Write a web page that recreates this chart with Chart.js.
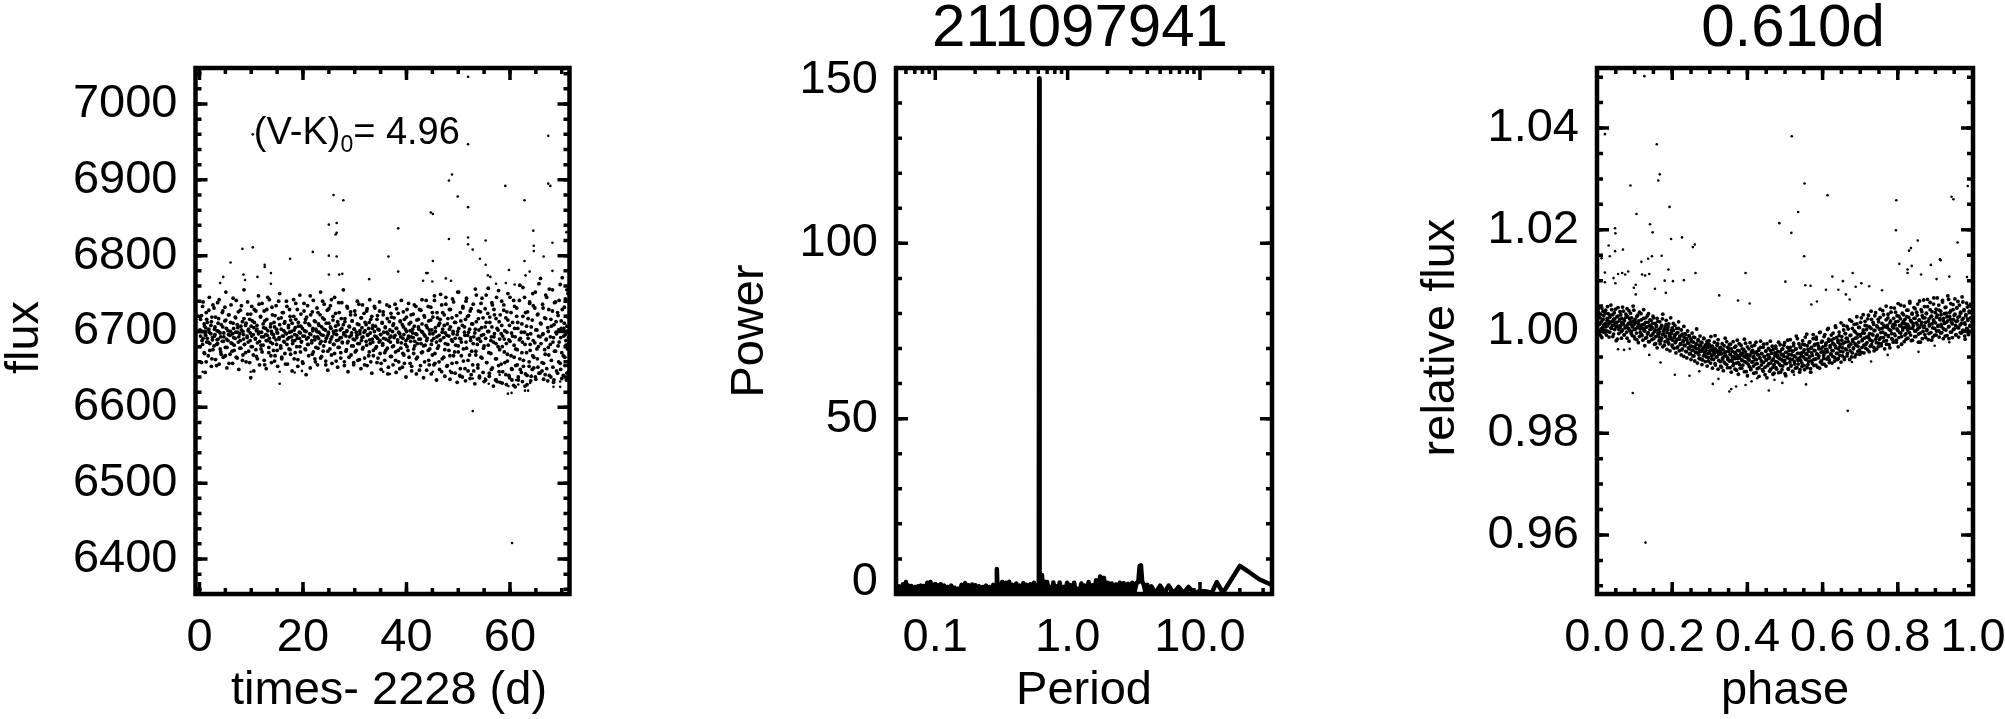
<!DOCTYPE html>
<html>
<head>
<meta charset="UTF-8">
<script src="https://cdn.jsdelivr.net/npm/chart.js"></script>
<style>
  html, body { margin: 0; width: 2005px; height: 719px; overflow: hidden; background: #fff; }
  canvas { position: absolute; top: 0; }
</style>
</head>
<body>
<canvas id="lightcurve" width="640" height="719" style="left:0"></canvas>
<canvas id="periodogram" width="706" height="719" style="left:727px"></canvas>
<canvas id="phased" width="750" height="719" style="left:1418px"></canvas>
<script>
// light curve: scattered outliers read one by one
const lcOutTimes = [51.9,10.3,67.4,51.9,48.8,48.2,59.1,67.4,67.8,25.9,27.8,49.9,62.8,51.9,44.7,45.1,25,26.5,26.5,26.3,38.4,64.5,70.9,48.2,51.9,55.3,51.9,52.8,64.6,64.6,68.2,8.3,10.3,21.9,17.5,25,26.5,36.5,66.5,54.2,45.1,62.8,6,12.6,12.6,55.3,59.8,38.4,13.8,8.5,63.8,63,68.2,25,27,27.6,43.8,44.1,11.2,4.6,55.7,56.2,8.8,32.8,47.6,48.6,4,43.2,45,13.8,59.2,57.3,60.9,15.5,52.8,60.4,59.6,60.3,62.9,63.5,15.5,18.4,19.8,9.9,55.9,52.8,50.3,68.4,69.7,68.4,69.7,63.9,59.7,60.3,61.6,57.4,58,55.2,45.1,36.8,0.6,35.5,48.4,61.2];
const lcOutFlux = [7036,6960,6958,6947,6907,6899,6892,6895,6892,6880,6873,6878,6873,6864,6857,6855,6841,6843,6830,6828,6836,6833,6831,6822,6824,6820,6815,6808,6813,6806,6817,6809,6811,6805,6796,6800,6799,6799,6799,6796,6793,6793,6791,6788,6785,6788,6781,6779,6777,6775,6779,6774,6780,6775,6775,6776,6777,6777,6772,6772,6774,6772,6768,6769,6770,6767,6764,6767,6766,6763,6764,6763,6762,6631,6595,6421,6618,6619,6622,6622,6647,6646,6648,6647,6631,6638,6640,6627,6627,6633,6634,6632,6628,6636,6630,6637,6643,6638,6647,6644,6647,6647,6648,6636];
// light curve: dense band, two passes over the same cadences
const lcCoreTimes = [
0.1,0.2,0.4,0.5,0.6,0.7,0.9,1.0,1.1,1.2,1.3,1.4,
1.5,1.7,1.8,1.9,2.0,2.2,2.3,2.4,2.5,2.6,2.8,2.9,
3.0,3.1,3.3,3.4,3.5,3.6,3.7,3.8,4.0,4.1,4.2,4.4,
4.5,4.6,4.7,4.9,5.0,5.1,5.2,5.3,5.5,5.6,5.7,5.9,
6.0,6.1,6.3,6.4,6.5,6.6,6.7,6.9,7.0,7.1,7.3,7.4,
7.5,7.6,7.8,7.9,8.0,8.1,8.3,8.4,8.5,8.6,8.7,8.9,
9.0,9.2,9.3,9.4,9.5,9.7,9.8,9.9,10.0,10.1,10.2,10.4,
10.5,10.6,10.8,10.9,11.0,11.1,11.2,11.4,11.5,11.6,11.8,11.9,
12.0,12.1,12.3,12.4,12.5,12.6,12.8,12.9,13.0,13.1,13.2,13.4,
13.5,13.7,13.8,13.9,14.0,14.1,14.3,14.4,14.5,14.6,14.8,14.9,
15.0,15.1,15.3,15.4,15.5,15.7,15.8,15.9,16.0,16.2,16.3,16.4,
16.5,16.6,16.8,16.9,17.0,17.2,17.3,17.4,17.5,17.6,17.8,17.9,
18.0,18.2,18.3,18.4,18.5,18.6,18.8,18.9,19.0,19.1,19.3,19.4,
19.5,19.6,19.7,19.9,20.0,20.2,20.3,20.4,20.5,20.6,20.7,20.9,
21.0,21.1,21.3,21.4,21.5,21.7,21.8,21.9,22.0,22.2,22.3,22.4,
22.5,22.7,22.8,22.9,23.0,23.1,23.3,23.4,23.5,23.6,23.8,23.9,
24.0,24.1,24.3,24.4,24.5,24.7,24.8,24.9,25.0,25.2,25.3,25.4,
25.5,25.6,25.8,25.9,26.0,26.1,26.3,26.4,26.5,26.7,26.8,26.9,
27.0,27.2,27.3,27.4,27.5,27.6,27.8,27.9,28.0,28.1,28.3,28.4,
28.5,28.6,28.7,28.9,29.0,29.2,29.3,29.4,29.5,29.7,29.8,29.9,
30.0,30.1,30.3,30.4,30.5,30.6,30.8,30.9,31.0,31.2,31.3,31.4,
31.5,31.6,31.8,31.9,32.0,32.2,32.3,32.4,32.5,32.7,32.8,32.9,
33.0,33.1,33.3,33.4,33.5,33.6,33.8,33.9,34.0,34.2,34.3,34.4,
34.5,34.7,34.8,34.9,35.0,35.1,35.3,35.4,35.5,35.6,35.8,35.9,
36.0,36.2,36.3,36.4,36.5,36.7,36.8,36.9,37.0,37.1,37.3,37.4,
37.5,37.6,37.8,37.9,38.0,38.1,38.3,38.4,38.5,38.7,38.8,38.9,
39.0,39.2,39.3,39.4,39.5,39.6,39.8,39.9,40.0,40.1,40.3,40.4,
40.5,40.7,40.8,40.9,41.0,41.2,41.3,41.4,41.5,41.6,41.8,41.9,
42.0,42.1,42.3,42.4,42.5,42.7,42.8,42.9,43.0,43.1,43.3,43.4,
43.5,43.6,43.8,43.9,44.0,44.2,44.3,44.4,44.5,44.7,44.8,44.9,
45.0,45.1,45.3,45.4,45.5,45.6,45.8,45.9,46.0,46.2,46.3,46.4,
46.5,46.6,46.8,46.9,47.0,47.2,47.3,47.4,47.5,47.6,47.8,47.9,
48.0,48.2,48.3,48.4,48.5,48.7,48.8,48.9,49.0,49.1,49.3,49.4,
49.5,49.7,49.8,49.9,50.0,50.1,50.3,50.4,50.5,50.6,50.8,50.9,
51.0,51.2,51.3,51.4,51.5,51.6,51.8,51.9,52.0,52.2,52.3,52.4,
52.5,52.6,52.8,52.9,53.0,53.2,53.3,53.4,53.5,53.7,53.8,53.9,
54.0,54.1,54.3,54.4,54.5,54.6,54.8,54.9,55.0,55.2,55.3,55.4,
55.5,55.7,55.8,55.9,56.0,56.1,56.3,56.4,56.5,56.6,56.8,56.9,
57.0,57.2,57.3,57.4,57.5,57.7,57.8,57.9,58.0,58.1,58.3,58.4,
58.5,58.6,58.8,58.9,59.0,59.2,59.3,59.4,59.5,59.6,59.8,59.9,
60.0,60.2,60.3,60.4,60.5,60.7,60.8,60.9,61.0,61.1,61.3,61.4,
61.5,61.6,61.8,61.9,62.0,62.2,62.3,62.4,62.5,62.6,62.8,62.9,
63.0,63.2,63.3,63.4,63.5,63.7,63.8,63.9,64.0,64.1,64.3,64.4,
64.5,64.6,64.8,64.9,65.0,65.2,65.3,65.4,65.5,65.6,65.8,65.9,
66.0,66.2,66.3,66.4,66.5,66.7,66.8,66.9,67.0,67.1,67.3,67.4,
67.5,67.6,67.8,67.9,68.0,68.2,68.3,68.4,68.5,68.6,68.8,68.9,
69.0,69.2,69.3,69.4,69.5,69.7,69.8,69.9,70.0,70.1,70.3,70.4,
70.5,70.6,70.7,70.8,70.9,71.0,71.0,71.1,71.2,71.2,71.3,71.3];
const lcCoreFlux = [
6702,6694,6721,6688,6683,6739,6710,6671,6697,6705,6660,6716,
6691,6686,6728,6699,6675,6708,6713,6664,6692,6735,6681,6703,
6696,6719,6655,6689,6684,6711,6700,6742,6677,6693,6670,6725,
6706,6687,6698,6732,6668,6715,6690,6679,6701,6722,6658,6695,
6712,6685,6674,6697,6744,6704,6682,6691,6718,6666,6709,6699,
6726,6693,6678,6688,6707,6734,6662,6700,6696,6717,6683,6672,
6711,6692,6739,6686,6703,6659,6698,6723,6680,6694,6714,6669,
6705,6729,6690,6676,6701,6708,6664,6697,6736,6687,6719,6682,
6699,6673,6710,6693,6727,6656,6704,6688,6716,6695,6745,6679,
6691,6706,6668,6700,6732,6684,6696,6712,6661,6721,6689,6703,
6675,6698,6740,6692,6709,6681,6718,6666,6694,6725,6701,6686,
6713,6657,6697,6733,6690,6705,6677,6699,6720,6670,6693,6711,
6684,6742,6702,6688,6672,6716,6695,6729,6663,6707,6691,6680,
6698,6723,6687,6704,6658,6737,6694,6712,6676,6700,6719,6683,
6692,6668,6708,6747,6696,6685,6726,6701,6673,6714,6689,6660,
6703,6731,6693,6678,6710,6699,6722,6665,6687,6706,6740,6695,
6681,6716,6702,6656,6691,6728,6674,6697,6711,6686,6734,6704,
6669,6693,6720,6700,6683,6745,6707,6661,6696,6713,6679,6689,
6725,6702,6672,6692,6738,6685,6709,6698,6655,6717,6694,6676,
6701,6731,6687,6666,6706,6722,6695,6681,6714,6690,6659,6703,
6727,6673,6699,6692,6710,6684,6736,6663,6697,6718,6688,6705,
6677,6693,6724,6656,6701,6709,6682,6730,6695,6668,6712,6689,
6698,6660,6720,6704,6686,6675,6733,6694,6707,6680,6716,6691,
6665,6702,6727,6688,6696,6658,6711,6684,6722,6699,6672,6705,
6690,6735,6678,6697,6653,6713,6692,6686,6724,6667,6700,6708,
6681,6718,6695,6662,6704,6730,6689,6675,6699,6651,6714,6693,
6685,6709,6671,6726,6696,6658,6703,6688,6719,6680,6691,6737,
6666,6701,6712,6693,6654,6698,6723,6677,6707,6687,6733,6664,
6696,6684,6716,6703,6649,6690,6728,6672,6710,6699,6681,6721,
6660,6694,6741,6688,6705,6675,6714,6656,6697,6732,6683,6702,
6669,6719,6691,6747,6658,6700,6686,6725,6678,6708,6695,6650,
6716,6689,6735,6664,6703,6692,6722,6676,6698,6745,6654,6710,
6683,6694,6729,6668,6706,6646,6718,6687,6700,6739,6673,6691,
6712,6659,6696,6752,6681,6704,6642,6725,6690,6668,6708,6733,
6677,6699,6651,6716,6686,6744,6695,6662,6721,6703,6638,6692,
6730,6674,6710,6684,6648,6698,6756,6669,6713,6690,6656,6727,
6702,6641,6687,6737,6695,6665,6718,6678,6634,6706,6691,6748,
6659,6724,6682,6700,6645,6712,6671,6693,6738,6652,6686,6729,
6697,6636,6717,6664,6704,6680,6754,6647,6690,6722,6657,6708,
6632,6694,6735,6673,6701,6643,6684,6726,6661,6715,6689,6639,
6745,6668,6698,6650,6712,6629,6682,6733,6693,6655,6720,6676,
6704,6636,6741,6664,6691,6646,6710,6686,6758,6654,6699,6628,
6725,6672,6642,6696,6717,6660,6737,6683,6635,6706,6650,6750,
6688,6666,6731,6640,6702,6677,6722,6653,6694,6763,6645,6711,
6684,6659,6736,6697,6637,6718,6670,6748,6690,6651,6705,6679,
6729,6642,6693,6716,6662,6755,6686,6633,6709,6674,6739,6699,
6648,6725,6681,6702,6741,6658,6692,6714,6638,6771,6668,6704,
6732,6655,6696,6688,6720,6645,6707,6677,6750,6660,6699,6684];
const lcCoreFluxB = [
6680,6716,6659,6700,6733,6691,6672,6707,6646,6695,6725,6686,
6712,6668,6703,6745,6684,6697,6654,6719,6689,6676,6731,6694,
6706,6663,6683,6701,6738,6690,6717,6657,6698,6673,6709,6687,
6727,6666,6693,6714,6679,6752,6704,6652,6688,6696,6722,6670,
6700,6735,6684,6658,6711,6692,6675,6719,6699,6741,6665,6705,
6686,6650,6697,6728,6678,6702,6713,6669,6690,6755,6683,6708,
6660,6694,6723,6701,6674,6716,6688,6639,6707,6733,6680,6696,
6648,6712,6691,6727,6667,6703,6685,6747,6699,6656,6720,6677,
6693,6737,6682,6705,6662,6714,6696,6651,6729,6688,6701,6672,
6742,6686,6710,6659,6697,6722,6675,6692,6706,6668,6734,6683,
6699,6654,6717,6690,6750,6678,6703,6664,6725,6694,6687,6711,
6671,6698,6740,6683,6657,6708,6692,6729,6676,6715,6700,6648,
6688,6720,6664,6696,6705,6737,6680,6691,6654,6712,6699,6748,
6673,6707,6686,6660,6694,6727,6701,6677,6716,6643,6690,6734,
6683,6710,6697,6652,6722,6688,6670,6704,6741,6693,6664,6713,
6679,6700,6656,6725,6691,6708,6684,6752,6696,6667,6718,6674,
6703,6736,6687,6661,6711,6694,6649,6699,6730,6677,6706,6690,
6742,6658,6715,6683,6697,6671,6724,6701,6688,6653,6709,6738,
6679,6692,6665,6717,6704,6686,6755,6696,6660,6713,6674,6700,
6733,6685,6647,6707,6693,6726,6669,6698,6714,6681,6656,6703,
6689,6722,6675,6695,6740,6662,6709,6684,6701,6651,6718,6692,
6735,6679,6699,6665,6712,6687,6727,6655,6696,6704,6673,6742,
6684,6716,6645,6690,6708,6668,6700,6731,6678,6693,6659,6721,
6703,6686,6739,6671,6696,6650,6712,6682,6726,6691,6662,6706,
6675,6699,6717,6644,6688,6733,6702,6667,6694,6719,6680,6656,
6710,6692,6736,6673,6646,6704,6686,6724,6660,6697,6713,6678,
6741,6653,6691,6706,6669,6716,6683,6640,6700,6729,6675,6694,
6710,6658,6687,6722,6648,6703,6692,6671,6735,6681,6697,6644,
6715,6666,6706,6690,6729,6655,6684,6700,6742,6673,6639,6696,
6719,6682,6708,6649,6691,6733,6662,6702,6677,6715,6644,6688,
6725,6697,6656,6741,6671,6705,6636,6693,6718,6681,6660,6711,
6688,6749,6647,6699,6725,6666,6708,6641,6684,6736,6695,6655,
6717,6675,6703,6637,6729,6689,6658,6743,6697,6668,6712,6645,
6682,6721,6633,6700,6673,6752,6691,6651,6714,6686,6640,6731,
6661,6706,6695,6635,6740,6678,6720,6648,6699,6669,6727,6688,
6643,6710,6656,6736,6693,6631,6703,6674,6748,6683,6652,6717,
6691,6639,6726,6666,6705,6744,6646,6696,6681,6730,6636,6712,
6659,6700,6757,6672,6641,6719,6688,6650,6706,6735,6628,6693,
6722,6664,6684,6745,6634,6702,6655,6713,6676,6633,6697,6740,
6680,6647,6728,6690,6659,6718,6630,6699,6670,6750,6642,6708,
6687,6725,6651,6636,6694,6741,6666,6704,6627,6677,6731,6656,
6712,6640,6689,6761,6650,6699,6672,6634,6720,6662,6745,6683,
6644,6707,6630,6726,6691,6654,6739,6675,6697,6641,6715,6668,
6734,6652,6685,6752,6637,6702,6664,6723,6680,6645,6693,6770,
6710,6648,6696,6731,6658,6676,6643,6717,6689,6745,6635,6700,
6669,6756,6683,6640,6707,6727,6653,6692,6636,6738,6674,6713,
6697,6645,6721,6660,6686,6762,6650,6704,6672,6729,6642,6694,
6711,6666,6743,6682,6636,6700,6755,6655,6719,6678,6692,6647];

// periodogram
const pgPeriod = [0.051,0.052,0.053,0.054,0.055,0.056,0.057,0.058,0.060,0.061,0.063,0.064,0.066,0.068,0.070,0.072,0.074,0.076,0.078,0.080,0.082,0.085,0.087,0.090,0.092,0.095,0.098,0.101,0.104,0.107,0.110,0.113,0.117,0.120,0.124,0.128,0.132,0.136,0.140,0.144,0.149,0.153,0.158,0.163,0.168,0.173,0.178,0.184,0.190,0.195,0.201,0.208,0.214,0.221,0.228,0.235,0.242,0.250,0.258,0.266,0.274,0.283,0.288,0.292,0.296,0.301,0.310,0.320,0.330,0.340,0.351,0.362,0.373,0.385,0.397,0.409,0.422,0.435,0.449,0.463,0.477,0.492,0.508,0.524,0.540,0.557,0.575,0.590,0.600,0.606,0.610,0.614,0.620,0.632,0.640,0.650,0.665,0.680,
0.700,0.720,0.740,0.760,0.780,0.800,0.830,0.850,0.870,0.900,
0.930,0.960,0.990,1.02,1.05,1.08,1.12,1.15,1.19,1.23,
1.27,1.31,1.35,1.40,1.44,1.49,1.54,1.59,1.64,1.70,
1.76,1.82,1.88,1.94,2.01,2.08,2.15,2.23,2.31,2.39,
2.48,2.57,2.66,2.76,2.86,2.97,3.08,3.20,3.32,3.42,
3.50,3.58,3.66,3.75,3.86,4.00,4.15,4.30,4.60,5.00,
5.40,5.80,6.30,6.90,7.50,8.20,9.00,9.90,10.9,12.3,
13.4,14.9,20.0,24.0,28.0,32.0,35.0];
const pgPower = [1.8,0.3,2.2,0.2,2.0,0.4,2.8,0.2,3.4,0.3,2.4,0.2,2.3,0.4,2.0,0.2,2.2,0.3,2.4,0.2,2.3,0.4,3.2,0.3,3.4,0.2,2.6,0.3,2.5,0.2,2.8,0.3,2.4,0.2,2.0,0.3,2.4,0.2,1.8,0.3,1.5,0.2,2.6,0.3,3.1,0.2,2.5,0.3,2.7,0.2,2.5,0.3,2.2,0.2,2.0,0.4,2.4,0.2,2.0,0.3,2.6,0.2,0.4,7.1,0.5,2.8,0.3,3.4,0.2,3.2,0.4,3.5,0.3,2.6,0.2,3.0,0.3,2.4,0.2,3.1,0.3,2.6,0.3,2.8,0.2,3.2,0.3,2.4,0.5,20,147,3.0,5.8,0.4,5.4,0.3,3.6,0.2,
3.4,0.3,2.0,0.2,3.3,0.3,2.2,0.2,3.3,0.3,
2.0,0.2,3.2,0.3,2.5,0.2,3.2,0.3,1.5,0.2,
3.0,0.3,2.4,0.2,3.4,0.3,2.5,0.2,3.9,0.3,
5.0,0.5,4.6,0.2,3.2,0.3,3.0,0.2,2.7,0.3,
3.2,0.2,3.1,0.3,2.9,0.2,3.2,0.6,3.2,3.4,
8.0,8.2,3.4,2.8,0.8,2.6,0.3,2.2,0.2,2.4,
0.3,2.4,0.2,2.0,0.3,2.0,0.2,0.8,0.8,0.4,
3.4,0.3,8.0,6.0,4.2,3.2,2.6];

// phase-folded: scattered outliers
const phOutPhase = [.126,.021,.159,.518,.167,.163,.089,.552,.613,.986,.943,.948,.796,.193,.105,.535,.048,.049,.141,.148,.485,.517,.795,.197,.226,.853,.26,.255,.959,.031,.048,.069,.034,.012,.835,.83,.146,.172,.136,.118,.551,.912,.914,.888,.804,.837,.826,.826,.862,.19,.021,.262,.395,.056,.067,.075,.083,.12,.128,.139,.626,.68,.654,.937,.903,.984,.231,.202,.18,.501,.044,.021,.049,.554,.568,.103,.098,.154,.183,.103,.325,.375,.406,.703,.688,.724,.758,.642,.662,.672,.609,.585,.57,.129,.095,.667,.352,.357,.457,.556,.308,.323,.37,.395,.411,.426,.493,.472,.207,.246,.272,.524,.57,.642,.678,.729,.773,.855,.169,.139,.056,.072,.087,.898,.937];
const phOutFlux = [1.0502,1.0388,1.0368,1.0384,1.0309,1.0297,1.0287,1.0291,1.0268,1.0286,1.0265,1.026,1.0258,1.0245,1.0231,1.0235,1.0203,1.0193,1.0211,1.0195,1.0213,1.0194,1.0199,1.0182,1.0185,1.0179,1.0171,1.0166,1.0175,1.0169,1.0158,1.0161,1.0148,1.0144,1.0164,1.0159,1.0148,1.0149,1.0143,1.0137,1.0148,1.0142,1.014,1.0131,1.0133,1.0129,1.0122,1.0115,1.0112,1.0122,1.0116,1.0115,1.0115,1.0113,1.0115,1.0112,1.0118,1.0112,1.011,1.0113,1.0108,1.0115,1.0099,1.0108,1.0103,1.0107,1.0101,1.0099,1.01,1.0098,1.0105,1.0097,1.0095,1.0091,1.009,1.0092,1.0086,1.0084,1.0076,1.0073,1.0071,1.0061,1.0055,1.0095,1.0088,1.0089,1.0081,1.0082,1.0073,1.0063,1.0082,1.0059,1.0053,.9585,.9879,.9844,.9882,.9887,.9884,.9896,.9897,.9907,.9892,.9895,.9902,.9908,.9899,.9905,.9915,.9913,.9922,.9915,.992,.9928,.994,.9941,.9954,.996,.9939,.9954,.9965,.9964,.9966,.9972,.9979];
// phase-folded: dense band, two passes over the same phases
const phCorePhase = [
.001,.003,.004,.006,.008,.010,.011,.013,.015,.016,.018,.020,
.022,.023,.025,.027,.028,.030,.032,.034,.035,.037,.039,.041,
.042,.044,.046,.047,.049,.051,.053,.054,.056,.058,.060,.061,
.063,.065,.066,.068,.070,.072,.073,.075,.077,.079,.080,.082,
.084,.085,.087,.089,.091,.092,.094,.096,.098,.099,.101,.103,
.105,.106,.108,.110,.111,.113,.115,.117,.118,.120,.122,.124,
.125,.127,.129,.130,.132,.134,.136,.137,.139,.141,.143,.144,
.146,.148,.149,.151,.153,.155,.156,.158,.160,.162,.163,.165,
.167,.168,.170,.172,.174,.175,.177,.179,.181,.182,.184,.186,
.188,.189,.191,.193,.194,.196,.198,.200,.201,.203,.205,.207,
.208,.210,.212,.213,.215,.217,.219,.220,.222,.224,.226,.227,
.229,.231,.232,.234,.236,.238,.239,.241,.243,.245,.246,.248,
.250,.251,.253,.255,.257,.258,.260,.262,.264,.265,.267,.269,
.271,.272,.274,.276,.277,.279,.281,.283,.284,.286,.288,.290,
.291,.293,.295,.296,.298,.300,.302,.303,.305,.307,.309,.310,
.312,.314,.315,.317,.319,.321,.322,.324,.326,.328,.329,.331,
.333,.334,.336,.338,.340,.341,.343,.345,.347,.348,.350,.352,
.354,.355,.357,.359,.360,.362,.364,.366,.367,.369,.371,.373,
.374,.376,.378,.379,.381,.383,.385,.386,.388,.390,.392,.393,
.395,.397,.398,.400,.402,.404,.405,.407,.409,.411,.412,.414,
.416,.417,.419,.421,.423,.424,.426,.428,.430,.431,.433,.435,
.437,.438,.440,.442,.443,.445,.447,.449,.450,.452,.454,.456,
.457,.459,.461,.462,.464,.466,.468,.469,.471,.473,.475,.476,
.478,.480,.481,.483,.485,.487,.488,.490,.492,.494,.495,.497,
.499,.500,.502,.504,.506,.507,.509,.511,.513,.514,.516,.518,
.520,.521,.523,.525,.526,.528,.530,.532,.533,.535,.537,.539,
.540,.542,.544,.545,.547,.549,.551,.552,.554,.556,.558,.559,
.561,.563,.564,.566,.568,.570,.571,.573,.575,.577,.578,.580,
.582,.583,.585,.587,.589,.590,.592,.594,.596,.597,.599,.601,
.603,.604,.606,.608,.609,.611,.613,.615,.616,.618,.620,.622,
.623,.625,.627,.628,.630,.632,.634,.635,.637,.639,.641,.642,
.644,.646,.647,.649,.651,.653,.654,.656,.658,.660,.661,.663,
.665,.666,.668,.670,.672,.673,.675,.677,.679,.680,.682,.684,
.686,.687,.689,.691,.692,.694,.696,.698,.699,.701,.703,.705,
.706,.708,.710,.711,.713,.715,.717,.718,.720,.722,.724,.725,
.727,.729,.730,.732,.734,.736,.737,.739,.741,.743,.744,.746,
.748,.749,.751,.753,.755,.756,.758,.760,.762,.763,.765,.767,
.769,.770,.772,.774,.775,.777,.779,.781,.782,.784,.786,.788,
.789,.791,.793,.794,.796,.798,.800,.801,.803,.805,.807,.808,
.810,.812,.813,.815,.817,.819,.820,.822,.824,.826,.827,.829,
.831,.832,.834,.836,.838,.839,.841,.843,.845,.846,.848,.850,
.852,.853,.855,.857,.858,.860,.862,.864,.865,.867,.869,.871,
.872,.874,.876,.877,.879,.881,.883,.884,.886,.888,.890,.891,
.893,.895,.896,.898,.900,.902,.903,.905,.907,.909,.910,.912,
.914,.915,.917,.919,.921,.922,.924,.926,.928,.929,.931,.933,
.935,.936,.938,.940,.941,.943,.945,.947,.948,.950,.952,.954,
.955,.957,.959,.960,.962,.964,.966,.967,.969,.971,.973,.974,
.976,.978,.979,.981,.983,.985,.986,.988,.990,.992,.994,.997];
const phCoreFlux = [
1.0021,1.0003,1.0038,1.0014,1.0027,.9992,1.0019,1.0046,1.0008,1.0024,1.0031,.9998,
1.0016,1.0042,1.0001,1.0022,1.0011,1.0035,.9989,1.0028,1.0017,1.0052,1.0006,1.0020,
1.0033,.9995,1.0013,1.0025,1.0044,1.0009,1.0018,.9985,1.0030,1.0004,1.0023,1.0039,
1.0012,1.0000,1.0026,1.0048,1.0015,.9993,1.0021,1.0007,1.0034,1.0010,.9987,1.0029,
1.0016,1.0041,1.0002,1.0019,.9996,1.0027,1.0009,1.0050,1.0013,.9990,1.0024,1.0005,
1.0018,.9984,1.0032,1.0008,1.0015,1.0038,.9998,1.0011,1.0023,.9992,1.0006,1.0043,
1.0014,1.0001,.9987,1.0027,1.0009,.9995,1.0018,1.0035,.9980,1.0004,1.0012,1.0022,
.9993,1.0007,1.0030,.9986,1.0000,1.0016,.9976,1.0010,1.0026,.9997,1.0003,.9989,
1.0019,1.0006,.9982,1.0012,.9994,1.0034,1.0001,.9973,1.0009,.9990,1.0022,.9998,
1.0004,.9979,1.0015,.9992,.9986,1.0027,.9996,1.0007,.9970,1.0002,.9988,1.0012,
.9994,.9981,1.0006,.9968,.9998,1.0019,.9985,.9991,.9975,1.0003,.9964,.9995,
.9980,1.0010,.9988,.9972,.9994,.9960,.9983,1.0001,.9977,.9966,.9990,.9957,
.9985,.9971,.9997,.9963,.9979,.9952,.9988,.9968,.9975,1.0005,.9958,.9982,
.9966,.9947,.9991,.9972,.9961,.9978,.9944,.9968,.9986,.9955,.9973,.9963,
.9950,.9981,.9969,.9942,.9975,.9958,.9964,.9990,.9946,.9971,.9954,.9961,
.9979,.9937,.9966,.9950,.9973,.9959,.9984,.9943,.9962,.9969,.9932,.9956,
.9976,.9948,.9964,.9940,.9958,.9987,.9952,.9935,.9969,.9945,.9961,.9974,
.9929,.9955,.9966,.9942,.9950,.9980,.9937,.9959,.9947,.9971,.9924,.9953,
.9963,.9939,.9976,.9948,.9928,.9957,.9944,.9966,.9934,.9952,.9985,.9941,
.9960,.9921,.9949,.9970,.9936,.9954,.9944,.9978,.9927,.9958,.9940,.9963,
.9932,.9951,.9973,.9945,.9919,.9960,.9937,.9955,.9966,.9929,.9948,.9981,
.9942,.9956,.9925,.9969,.9939,.9950,.9915,.9961,.9944,.9976,.9933,.9953,
.9947,.9922,.9963,.9938,.9957,.9971,.9930,.9946,.9918,.9958,.9941,.9967,
.9926,.9953,.9949,.9979,.9936,.9960,.9920,.9945,.9965,.9932,.9955,.9973,
.9943,.9917,.9959,.9937,.9950,.9983,.9926,.9963,.9946,.9969,.9934,.9954,
.9922,.9961,.9977,.9941,.9951,.9928,.9966,.9947,.9986,.9936,.9957,.9920,
.9970,.9943,.9958,.9931,.9975,.9950,.9964,.9925,.9989,.9945,.9955,.9972,
.9935,.9961,.9948,.9980,.9927,.9967,.9942,.9953,.9994,.9933,.9963,.9975,
.9946,.9985,.9956,.9930,.9971,.9952,.9998,.9940,.9966,.9979,.9936,.9960,
.9947,.9990,.9958,.9973,.9932,.9965,1.0004,.9950,.9981,.9944,.9969,.9956,
.9993,.9938,.9977,.9962,.9986,.9949,.9971,1.0008,.9957,.9945,.9983,.9966,
.9999,.9953,.9975,.9940,.9990,.9968,.9960,1.0012,.9948,.9979,.9996,.9964,
.9952,.9986,1.0005,.9970,.9945,.9992,.9975,1.0020,.9958,.9981,.9966,1.0001,
.9950,.9987,.9973,1.0015,.9995,.9961,.9979,1.0008,.9955,.9991,1.0027,.9969,
.9984,1.0003,.9958,.9997,1.0020,.9975,.9989,1.0011,.9964,1.0032,.9986,.9996,
.9971,1.0006,1.0024,.9981,.9993,1.0014,.9962,1.0002,1.0037,.9978,.9990,1.0009,
.9970,1.0019,.9985,1.0028,.9998,.9976,1.0006,1.0041,.9988,1.0012,.9966,.9996,
1.0023,.9982,1.0008,1.0034,.9992,.9974,1.0017,1.0002,1.0047,.9986,1.0010,.9979,
1.0026,.9995,1.0013,1.0038,.9983,1.0005,1.0020,.9970,1.0030,.9998,1.0011,1.0052,
.9990,1.0016,1.0003,1.0033,.9980,1.0024,1.0008,.9996,1.0042,1.0014,.9987,1.0028,
1.0006,1.0056,.9993,1.0019,1.0036,.9983,1.0011,1.0026,1.0001,1.0045,.9990,1.0017,
1.0032,1.0005,.9979,1.0022,1.0060,.9997,1.0013,1.0039,.9986,1.0027,1.0008,1.0049,
.9994,1.0018,1.0035,1.0002,1.0063,.9984,1.0025,1.0011,1.0043,.9998,1.0030,1.0015,
.9989,1.0054,1.0020,1.0006,1.0037,.9993,1.0028,1.0066,1.0012,1.0001,1.0042,1.0023,
.9997,1.0033,1.0009,1.0058,.9986,1.0026,1.0016,1.0047,1.0003,1.0036,.9992,1.0021,
1.0063,1.0010,1.0029,.9999,1.0041,1.0018,.9988,1.0053,1.0024,1.0005,1.0034,1.0012,
.9994,1.0046,1.0021,1.0059,1.0007,1.0030,.9998,1.0038,1.0016,1.0068,1.0002,1.0026,
1.0043,.9991,1.0014,1.0033,1.0056,1.0004,1.0022,.9996,1.0040,1.0010,1.0027,1.0049];
const phCoreFluxB = [
1.0011,1.0029,1.0045,.9997,1.0016,1.0034,1.0005,.9988,1.0023,1.0040,1.0013,1.0002,
1.0036,1.0009,.9993,1.0026,1.0049,1.0015,1.0020,.9999,1.0032,1.0007,1.0043,1.0012,
.9990,1.0024,1.0037,1.0004,1.0018,.9982,1.0029,1.0011,1.0047,.9996,1.0021,1.0008,
1.0033,.9987,1.0017,1.0003,1.0040,1.0023,.9994,1.0010,1.0028,.9999,1.0045,1.0014,
1.0006,.9981,1.0025,1.0036,1.0000,1.0013,.9992,1.0020,1.0042,1.0004,.9986,1.0017,
.9997,1.0029,1.0009,.9978,1.0021,.9990,1.0005,1.0035,.9995,1.0013,.9983,1.0026,
1.0002,.9972,1.0018,1.0008,.9988,1.0031,.9998,.9980,1.0011,1.0023,.9992,1.0005,
.9984,1.0016,.9996,1.0027,.9975,1.0003,.9990,1.0012,.9968,1.0020,.9994,.9982,
.9999,.9976,1.0008,.9987,1.0025,.9970,.9995,1.0004,.9980,.9991,1.0014,.9965,
.9985,1.0009,.9976,.9996,.9962,.9989,1.0002,.9973,.9983,1.0016,.9967,.9992,
.9978,.9958,.9997,.9985,.9970,1.0006,.9962,.9988,.9976,.9954,.9993,.9966,
.9982,.9951,.9973,.9996,.9961,.9986,.9948,.9977,.9968,.9992,.9956,.9971,
.9945,.9980,.9963,.9952,.9989,.9970,.9942,.9959,.9976,.9966,.9938,.9984,
.9954,.9973,.9961,.9946,.9979,.9935,.9965,.9952,.9987,.9959,.9941,.9969,
.9975,.9932,.9957,.9949,.9982,.9962,.9938,.9971,.9953,.9928,.9966,.9945,
.9957,.9992,.9934,.9963,.9950,.9976,.9926,.9955,.9968,.9941,.9959,.9930,
.9965,.9946,.9923,.9972,.9952,.9937,.9960,.9980,.9929,.9948,.9967,.9942,
.9955,.9975,.9920,.9944,.9961,.9933,.9951,.9969,.9926,.9957,.9938,.9983,
.9947,.9916,.9962,.9935,.9953,.9973,.9928,.9943,.9958,.9965,.9921,.9950,
.9977,.9939,.9955,.9913,.9946,.9966,.9931,.9952,.9925,.9960,.9971,.9941,
.9949,.9918,.9958,.9936,.9979,.9945,.9927,.9954,.9963,.9912,.9948,.9969,
.9934,.9957,.9940,.9922,.9975,.9951,.9930,.9962,.9944,.9909,.9954,.9967,
.9937,.9949,.9981,.9926,.9958,.9943,.9916,.9965,.9935,.9952,.9971,.9929,
.9956,.9940,.9961,.9919,.9947,.9974,.9933,.9954,.9925,.9966,.9942,.9951,
.9978,.9937,.9913,.9959,.9948,.9969,.9927,.9955,.9940,.9984,.9932,.9962,
.9945,.9921,.9972,.9952,.9936,.9965,.9991,.9929,.9957,.9943,.9976,.9948,
.9925,.9968,.9953,.9938,.9982,.9960,.9933,.9974,.9946,.9956,.9995,.9929,
.9965,.9941,.9978,.9951,.9920,.9969,.9958,.9937,.9986,.9945,.9973,.9962,
.9934,.9989,.9955,.9976,.9948,.9966,.9928,.9999,.9959,.9942,.9981,.9970,
.9953,.9936,.9994,.9965,.9977,.9946,.9960,1.0006,.9985,.9939,.9972,.9955,
.9983,.9963,.9951,.9997,.9975,.9942,1.0011,.9968,.9988,.9957,.9979,.9947,
.9992,.9970,.9961,1.0017,.9983,.9952,.9976,1.0003,.9945,.9996,.9966,.9987,
1.0010,.9957,.9980,.9972,1.0023,.9962,.9993,.9950,1.0006,.9984,.9968,1.0014,
.9976,.9999,.9955,1.0029,.9988,.9971,1.0008,.9964,.9994,1.0018,.9959,.9982,
.9997,1.0033,.9973,.9987,1.0012,.9967,1.0004,.9978,1.0025,.9991,.9960,1.0009,
.9983,1.0040,.9974,.9995,1.0018,.9969,1.0002,1.0031,.9985,.9965,1.0011,.9993,
1.0024,.9977,1.0005,1.0044,.9988,.9972,1.0016,.9999,1.0033,.9981,1.0009,.9994,
1.0050,.9975,1.0012,1.0027,.9990,1.0004,.9968,1.0021,1.0038,.9996,.9984,1.0014,
1.0007,1.0046,.9992,1.0019,.9979,1.0031,1.0002,1.0055,.9988,1.0012,1.0025,.9997,
.9975,1.0036,1.0008,1.0020,1.0050,.9993,1.0015,.9985,1.0029,1.0003,1.0042,1.0010,
.9998,1.0059,1.0022,.9982,1.0034,1.0006,1.0016,1.0047,.9990,1.0026,1.0001,1.0038,
1.0013,1.0054,.9995,1.0023,1.0008,.9979,1.0043,1.0018,1.0031,1.0000,1.0062,1.0011,
1.0027,.9988,1.0036,1.0004,1.0049,1.0020,.9996,1.0014,1.0057,1.0029,.9983,1.0039,
1.0007,1.0023,1.0066,.9993,1.0017,1.0044,1.0001,1.0032,1.0010,1.0052,.9989,1.0026,
1.0040,1.0014,.9998,1.0061,1.0021,1.0005,1.0035,.9991,1.0048,1.0018,1.0029,1.0070,
1.0009,.9986,1.0037,1.0024,1.0055,.9999,1.0015,1.0043,1.0004,1.0032,1.0064,.9993,
1.0020,1.0047,1.0008,1.0028,.9989,1.0052,1.0013,1.0036,.9997,1.0023,1.0058,1.0002,
1.0041,1.0017,.9985,1.0031,1.0006,1.0048,1.0025,.9994,1.0037,1.0012,1.0054,1.0019];

// tick positions and labels
const lcTimeTicks = [0, 20, 40, 60];
const lcTimeLabels = ['0', '20', '40', '60'];
const lcFluxTicks = [6400, 6500, 6600, 6700, 6800, 6900, 7000];
const lcFluxLabels = ['6400', '6500', '6600', '6700', '6800', '6900', '7000'];
const pgPeriodTicks = [0.1, 1, 10];
const pgPeriodLabels = ['0.1', '1.0', '10.0'];
const pgPeriodMinor = [0.06,0.07,0.08,0.09,0.2,0.3,0.4,0.5,0.6,0.7,0.8,0.9,2,3,4,5,6,7,8,9,20,30];
const pgPowerTicks = [0, 50, 100, 150];
// the end labels sit inside the frame, so they carry an empty line
const pgPowerLabels = [['0', ''], '50', '100', ['', '150']];
const phPhaseTicks = [0, 0.2, 0.4, 0.6, 0.8, 1];
const phPhaseLabels = ['0.0', '0.2', '0.4', '0.6', '0.8', '1.0'];
const phFluxTicks = [0.96, 0.98, 1, 1.02, 1.04];
const phFluxLabels = ['0.96', '0.98', '1.00', '1.02', '1.04'];

const FONT = '"Liberation Sans", Arial, sans-serif';
const INK = '#000';

function toPoints(xs, ys) {
    return xs.map((x, i) => ({ x: x, y: ys[i] }));
}

function stepValues(from, to, step) {
    const out = [];
    for (let i = 0; from + i * step <= to + step / 1000; i++) out.push(from + i * step);
    return out;
}

// IDL style box: thick frame with inward ticks on all four sides
const framePlugin = {
    id: 'frame',
    afterDatasetsDraw(chart, args, opts) {
        const { ctx, chartArea: { left, right, top, bottom }, scales: { x, y } } = chart;
        ctx.save();
        ctx.strokeStyle = INK;
        ctx.lineWidth = 3.5;
        const xTick = (value, len) => {
            const px = x.getPixelForValue(value);
            ctx.beginPath();
            ctx.moveTo(px, top); ctx.lineTo(px, top + len);
            ctx.moveTo(px, bottom); ctx.lineTo(px, bottom - len);
            ctx.stroke();
        };
        const yTick = (value, len) => {
            const px = y.getPixelForValue(value);
            ctx.beginPath();
            ctx.moveTo(left, px); ctx.lineTo(left + len, px);
            ctx.moveTo(right, px); ctx.lineTo(right - len, px);
            ctx.stroke();
        };
        opts.xMinor.forEach(v => xTick(v, 6));
        opts.yMinor.forEach(v => yTick(v, 6));
        opts.xMajor.forEach(v => xTick(v, 12));
        opts.yMajor.forEach(v => yTick(v, 12));
        ctx.lineWidth = 4.5;
        ctx.strokeRect(left, top, right - left, bottom - top);
        ctx.restore();
    }
};

// (V-K)0 note inside the light curve panel
const colourNotePlugin = {
    id: 'colourNote',
    afterDraw(chart, args, opts) {
        if (!opts.text) return;
        const { ctx, scales: { x, y } } = chart;
        let px = x.getPixelForValue(opts.time);
        const py = y.getPixelForValue(opts.flux);
        ctx.save();
        ctx.fillStyle = INK;
        ctx.textBaseline = 'alphabetic';
        ctx.font = '38px ' + FONT;
        ctx.fillText(opts.text[0], px, py);
        px += ctx.measureText(opts.text[0]).width;
        ctx.font = '23px ' + FONT;
        ctx.fillText(opts.text[1], px, py + 8);
        px += ctx.measureText(opts.text[1]).width;
        ctx.font = '38px ' + FONT;
        ctx.fillText(opts.text[2], px, py);
        ctx.restore();
    }
};

function fixedTicks(values, labels) {
    return {
        afterBuildTicks: scale => { scale.ticks = values.map(v => ({ value: v })); },
        ticks: {
            color: INK,
            autoSkip: false,
            maxRotation: 0,
            minRotation: 0,
            callback: (value, index) => labels[index]
        }
    };
}

function axisTitle(text, padding) {
    return { display: true, text: text, color: INK, padding: padding, font: { family: FONT, size: 47, lineHeight: 1 } };
}

function makePanel(id, cfg) {
    const canvas = document.getElementById(id);
    const xTicks = fixedTicks(cfg.xMajor, cfg.xLabels);
    const yTicks = fixedTicks(cfg.yMajor, cfg.yLabels);
    xTicks.ticks.font = { family: FONT, size: 47 };
    xTicks.ticks.padding = 8;
    yTicks.ticks.font = { family: FONT, size: 47, lineHeight: cfg.yLabelLine || 1.2 };
    yTicks.ticks.padding = 10;
    return new Chart(canvas, {
        type: 'scatter',
        data: { datasets: cfg.datasets },
        options: {
            responsive: false,
            animation: false,
            events: [],
            layout: { padding: { left: 0, top: cfg.title ? 0 : 68, right: 0, bottom: 0 } },
            plugins: {
                legend: { display: false },
                tooltip: { enabled: false },
                title: {
                    display: !!cfg.title,
                    text: cfg.title,
                    color: INK,
                    padding: { top: 0, bottom: 10 },
                    font: { family: FONT, size: 60, weight: 'normal', lineHeight: 0.967 }
                },
                frame: { xMajor: cfg.xMajor, xMinor: cfg.xMinor, yMajor: cfg.yMajor, yMinor: cfg.yMinor },
                colourNote: cfg.note || {}
            },
            scales: {
                x: Object.assign({
                    type: cfg.xType || 'linear',
                    min: cfg.xRange[0],
                    max: cfg.xRange[1],
                    grid: { display: false },
                    border: { display: false },
                    title: axisTitle(cfg.xTitle, { top: 0, bottom: 4 }),
                    afterFit: scale => { scale.height = 125; }
                }, xTicks),
                y: Object.assign({
                    type: 'linear',
                    min: cfg.yRange[0],
                    max: cfg.yRange[1],
                    grid: { display: false },
                    border: { display: false },
                    title: axisTitle(cfg.yTitle, cfg.yTitlePad || 0),
                    afterFit: scale => { scale.width = cfg.plotLeft; }
                }, yTicks),
                // empty axis that holds the room right of the frame, so the title box spans the whole canvas
                spacer: {
                    type: 'linear',
                    position: 'right',
                    grid: { display: false },
                    border: { display: false },
                    ticks: { display: false },
                    afterFit: scale => { scale.width = canvas.width - cfg.plotRight; }
                }
            }
        },
        plugins: [framePlugin, colourNotePlugin]
    });
}

function dots(points, radius) {
    return { data: points, showLine: false, pointRadius: radius, pointBorderWidth: 0, pointBackgroundColor: INK };
}

makePanel('lightcurve', {
    plotLeft: 195.5, plotRight: 569.5,
    xRange: [-0.77, 71.5], yRange: [6353.8, 7047.5],
    xMajor: lcTimeTicks, xLabels: lcTimeLabels, xMinor: stepValues(0, 70, 5),
    yMajor: lcFluxTicks, yLabels: lcFluxLabels, yMinor: stepValues(6360, 7040, 20),
    xTitle: '\u00a0times- 2228 (d)', yTitle: 'flux\u00a0', yTitlePad: 2,
    note: { text: ['(V-K)', '0', '= 4.96'], time: 10.5, flux: 6947 },
    datasets: [
        dots(toPoints(lcOutTimes, lcOutFlux), 1.3),
        dots(toPoints(lcCoreTimes, lcCoreFlux), 1.9),
        dots(toPoints(lcCoreTimes, lcCoreFluxB), 1.9)
    ]
});

makePanel('periodogram', {
    title: '211097941',
    plotLeft: 169, plotRight: 545,
    xType: 'logarithmic',
    xRange: [0.0505, 35], yRange: [0, 150],
    xMajor: pgPeriodTicks, xLabels: pgPeriodLabels, xMinor: pgPeriodMinor,
    yMajor: pgPowerTicks, yLabels: pgPowerLabels, yLabelLine: 0.52, yMinor: stepValues(0, 150, 10),
    xTitle: 'Period', yTitle: 'Power',
    datasets: [{
        data: toPoints(pgPeriod, pgPower),
        showLine: true,
        borderColor: INK,
        borderWidth: 4.5,
        borderJoinStyle: 'round',
        pointRadius: 0,
        tension: 0
    }]
});

makePanel('phased', {
    title: '0.610d',
    plotLeft: 179, plotRight: 555,
    xRange: [0, 1], yRange: [0.9484, 1.0518],
    xMajor: phPhaseTicks, xLabels: phPhaseLabels, xMinor: stepValues(0, 1, 0.05),
    yMajor: phFluxTicks, yLabels: phFluxLabels, yMinor: stepValues(0.95, 1.05, 0.005),
    xTitle: 'phase', yTitle: 'relative flux\u00a0',
    datasets: [
        dots(toPoints(phOutPhase, phOutFlux), 1.3),
        dots(toPoints(phCorePhase, phCoreFlux), 1.9),
        dots(toPoints(phCorePhase, phCoreFluxB), 1.9)
    ]
});
</script>
</body>
</html>
